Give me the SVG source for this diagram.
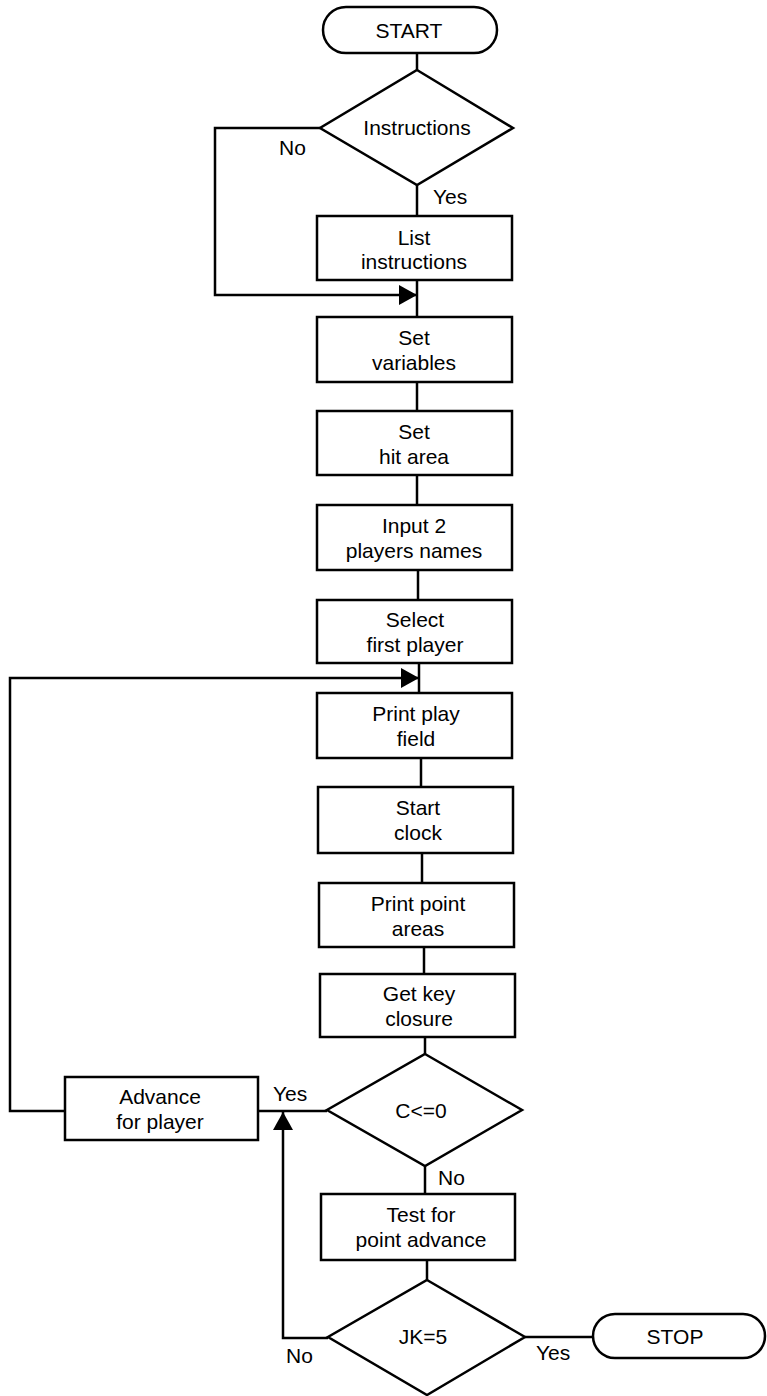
<svg xmlns="http://www.w3.org/2000/svg" width="767" height="1396" viewBox="0 0 767 1396">
<style>
.s{fill:#fff;stroke:#000;stroke-width:2.5}
.c{fill:none;stroke:#000;stroke-width:2.5}
text{font-family:"Liberation Sans",Arial,sans-serif;font-size:21px;fill:#000}
.m{text-anchor:middle}
</style>
<defs>
<marker id="ar" viewBox="0 0 18 20" refX="18" refY="10" markerWidth="18" markerHeight="20" markerUnits="userSpaceOnUse" orient="auto">
<path d="M0,0 L18,10 L0,20 Z" fill="#000"/>
</marker>
</defs>
<rect width="767" height="1396" fill="#fff"/>
<g id="connectors">
<line class="c" x1="417" y1="53" x2="417" y2="70"/>
<line class="c" x1="417" y1="185" x2="417" y2="216"/>
<line class="c" x1="417" y1="280" x2="417" y2="317"/>
<polyline class="c" points="320,128 215,128 215,295 417,295" marker-end="url(#ar)"/>
<line class="c" x1="417" y1="382" x2="417" y2="411"/>
<line class="c" x1="417" y1="475" x2="417" y2="505"/>
<line class="c" x1="418" y1="570" x2="418" y2="600"/>
<line class="c" x1="419" y1="663" x2="419" y2="693"/>
<polyline class="c" points="65,1111 10,1111 10,678 419,678" marker-end="url(#ar)"/>
<line class="c" x1="421" y1="758" x2="421" y2="787"/>
<line class="c" x1="422" y1="853" x2="422" y2="883"/>
<line class="c" x1="424" y1="947" x2="424" y2="974"/>
<line class="c" x1="425" y1="1037" x2="425" y2="1054"/>
<line class="c" x1="425" y1="1166" x2="425" y2="1194"/>
<line class="c" x1="327" y1="1111" x2="258" y2="1111"/>
<line class="c" x1="427" y1="1260" x2="427" y2="1280"/>
<polyline class="c" points="328,1338 283,1338 283,1112" marker-end="url(#ar)"/>
<line class="c" x1="525" y1="1337" x2="593" y2="1337"/>
<text x="279" y="155">No</text>
<text x="433" y="204">Yes</text>
<text x="438" y="1185">No</text>
<text x="273" y="1101">Yes</text>
<text x="286" y="1363">No</text>
<text x="536" y="1360">Yes</text>
</g>
<g id="start">
<rect class="s" x="323" y="7" width="174" height="46" rx="23"/>
<text class="m" x="409" y="38">START</text>
</g>
<g id="instructions">
<polygon class="s" points="417,70 513,128 417,185 320,128"/>
<text class="m" x="417" y="135">Instructions</text>
</g>
<g id="list-instructions">
<rect class="s" x="317" y="216" width="195" height="64"/>
<text class="m" x="414" y="245">List</text>
<text class="m" x="414" y="269">instructions</text>
</g>
<g id="set-variables">
<rect class="s" x="317" y="317" width="195" height="65"/>
<text class="m" x="414" y="345">Set</text>
<text class="m" x="414" y="370">variables</text>
</g>
<g id="set-hit-area">
<rect class="s" x="317" y="411" width="195" height="64"/>
<text class="m" x="414" y="439">Set</text>
<text class="m" x="414" y="464">hit area</text>
</g>
<g id="input-names">
<rect class="s" x="317" y="505" width="195" height="65"/>
<text class="m" x="414" y="533">Input 2</text>
<text class="m" x="414" y="558">players names</text>
</g>
<g id="select-first-player">
<rect class="s" x="317" y="600" width="195" height="63"/>
<text class="m" x="415" y="627">Select</text>
<text class="m" x="415" y="652">first player</text>
</g>
<g id="print-play-field">
<rect class="s" x="317" y="693" width="195" height="65"/>
<text class="m" x="416" y="721">Print play</text>
<text class="m" x="416" y="746">field</text>
</g>
<g id="start-clock">
<rect class="s" x="318" y="787" width="195" height="66"/>
<text class="m" x="418" y="815">Start</text>
<text class="m" x="418" y="840">clock</text>
</g>
<g id="print-point-areas">
<rect class="s" x="319" y="883" width="195" height="64"/>
<text class="m" x="418" y="911">Print point</text>
<text class="m" x="418" y="936">areas</text>
</g>
<g id="get-key-closure">
<rect class="s" x="320" y="974" width="195" height="63"/>
<text class="m" x="419" y="1001">Get key</text>
<text class="m" x="419" y="1026">closure</text>
</g>
<g id="c-le-0">
<polygon class="s" points="425,1054 522,1110 425,1166 327,1110"/>
<text class="m" x="421" y="1118">C&lt;=0</text>
</g>
<g id="advance-for-player">
<rect class="s" x="65" y="1077" width="193" height="63"/>
<text class="m" x="160" y="1104">Advance</text>
<text class="m" x="160" y="1129">for player</text>
</g>
<g id="test-point-advance">
<rect class="s" x="321" y="1194" width="194" height="66"/>
<text class="m" x="421" y="1222">Test for</text>
<text class="m" x="421" y="1247">point advance</text>
</g>
<g id="jk-5">
<polygon class="s" points="427,1280 525,1337 427,1395 328,1337"/>
<text class="m" x="423" y="1344">JK=5</text>
</g>
<g id="stop">
<rect class="s" x="593" y="1314" width="172" height="44" rx="22"/>
<text class="m" x="675" y="1344">STOP</text>
</g>
</svg>
